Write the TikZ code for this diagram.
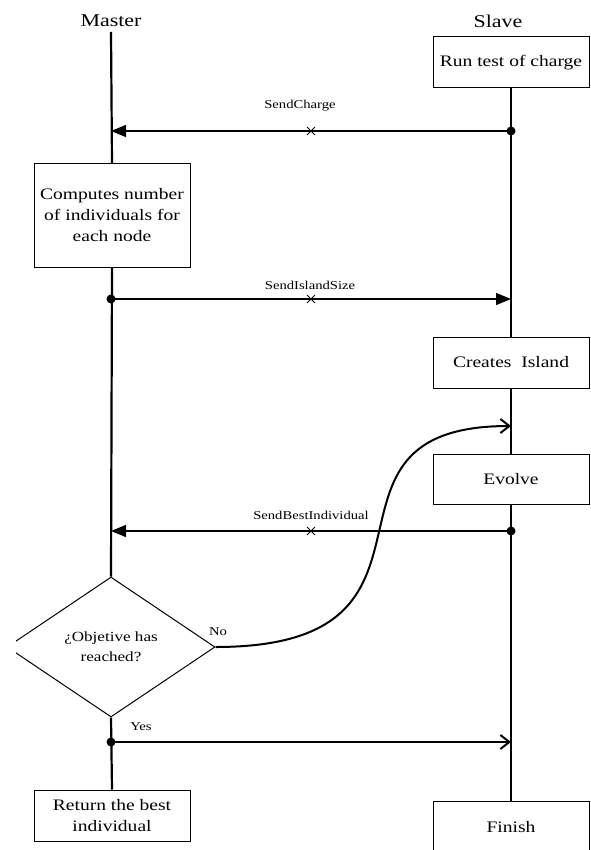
\documentclass[tikz,border=0pt]{standalone}
\usepackage{fontspec}
\setmainfont{Liberation Serif}
\newfontfamily\widefont[FakeStretch=1.22]{Liberation Serif}
\usetikzlibrary{arrows.meta,shapes.geometric,shapes.misc}
\begin{document}
\begin{tikzpicture}[x=1pt,y=-1pt,
  head/.style={inner sep=0pt, font=\widefont\fontsize{18}{22}\selectfont},
  box/.style={draw, line width=1pt, minimum width=156pt, align=center, inner sep=0pt,
              font=\widefont\fontsize{16}{21}\selectfont},
  decision/.style={draw, diamond, line width=1pt, minimum width=208pt, minimum height=140pt,
              inner sep=0pt, align=center, font=\widefont\fontsize{14}{20}\selectfont},
  life/.style={line width=2.2pt},
  msg/.style={line width=1.2pt},
  dot/.style={circle, fill, inner sep=0pt, minimum size=9pt},
  xmark/.style={cross out, draw, line width=0.8pt, minimum size=7pt, inner sep=0pt},
  lbl/.style={inner sep=0pt, font=\widefont\fontsize{12}{14}\selectfont},
  tri/.style={-{Triangle[length=15pt,width=12pt]}},
  barb/.style={line width=2pt, -{Straight Barb[length=9pt,width=14pt]}}]
\useasboundingbox (0,0) rectangle (590,850);
\clip (16,0) rectangle (591,851);

% headers
\node[head] (master) at (111,21) {Master};
\node[head] (slave) at (498,21) {Slave};

% boxes
\node[box, minimum height=51pt] (run) at (511,62.5) {Run test of charge};
\node[box, minimum height=103pt] (comp) at (112,215.5) {Computes number\\of individuals for\\each node};
\node[box, minimum height=51pt] (creates) at (511,362.5) {Creates\ \ Island};
\node[box, minimum height=50pt] (evolve) at (511,479) {Evolve};
\node[decision] (dec) at (111,647) {¿Objetive has\\reached?};
\node[box, minimum height=51pt] (ret) at (112,815.5) {Return the best\\individual};
\node[box, minimum height=52pt] (fin) at (511,827) {Finish};

% lifelines
\coordinate (mtop) at (111,32);
\draw[life] (mtop) -- (comp.north);
\draw[life] (comp.south) -- (dec.north);
\draw[life] (dec.south) -- (ret.north);
\draw[life] (run.south) -- (creates.north);
\draw[life] (creates.south) -- (evolve.north);
\draw[life] (evolve.south) -- (fin.north);

% SendCharge
\coordinate (m1) at (111,131);
\node[dot] (s1) at (511,131) {};
\draw[msg,tri] (s1.center) -- (m1);
\node[xmark] (x1) at (311,131) {};
\node[lbl] (l1) at (300,106) {SendCharge};

% SendIslandSize
\node[dot] (m2) at (111,299) {};
\coordinate (s2) at (511,299);
\draw[msg,tri] (m2.center) -- (s2);
\node[xmark] (x2) at (311,299) {};
\node[lbl] (l2) at (310,285) {SendIslandSize};

% SendBestIndividual
\coordinate (m3) at (111,531);
\node[dot] (s3) at (511,531) {};
\draw[msg,tri] (s3.center) -- (m3);
\node[xmark] (x3) at (311,531) {};
\node[lbl] (l3) at (311,515) {SendBestIndividual};

% No loop
\coordinate (loopin) at (511,426);
\draw[barb] (dec.east) .. controls +(262,0) and +(-222,0) .. (loopin);
\node[lbl] (no) at (218,632) {No};

% Yes
\node[dot] (ydot) at (111,742) {};
\coordinate (yend) at (511,742);
\draw[barb] (ydot.center) -- (yend);
\node[lbl] (yes) at (141,727) {Yes};
\end{tikzpicture}
\end{document}
